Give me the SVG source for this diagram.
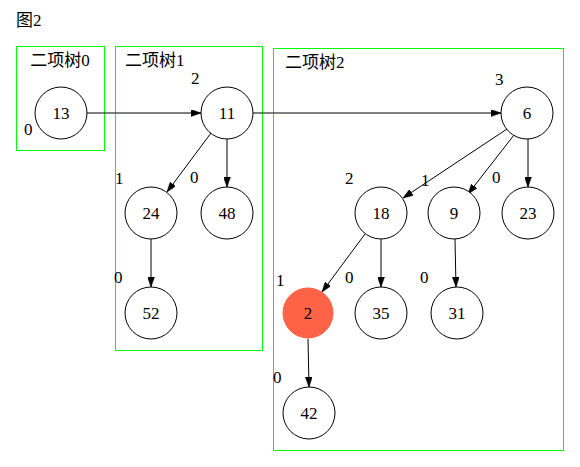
<svg xmlns="http://www.w3.org/2000/svg" width="580" height="467" viewBox="0 0 580 467">
<style>
.cl{fill:none;stroke:#00ff00;stroke-width:1}
.n{fill:#fff;stroke:#000;stroke-width:1}
.t{font-family:"Liberation Serif","Noto Sans CJK SC",serif;font-size:17px;fill:#000}
.c{text-anchor:middle}
.e{stroke:#000;stroke-width:1;fill:none;marker-end:url(#ah)}
</style>
<defs>
<marker id="ah" markerWidth="10" markerHeight="7" refX="10" refY="3.5" orient="auto" markerUnits="userSpaceOnUse">
<path d="M0,0 L10,3.5 L0,7 Z" fill="#000" stroke="#000" stroke-width="0.5"/>
</marker>
</defs>
<rect width="580" height="467" fill="#fff"/>
<text class="t" x="16" y="26">图2</text>
<g id="cluster0"><rect class="cl" x="16.5" y="46.5" width="88" height="104"/><text class="t c" x="60" y="66">二项树0</text></g>
<g id="cluster1"><rect class="cl" x="115.5" y="46.5" width="147" height="304"/><text class="t" x="125" y="66">二项树1</text></g>
<g id="cluster2"><rect class="cl" x="273.5" y="48.5" width="290" height="402"/><text class="t" x="285" y="68">二项树2</text></g>
<g id="edges">
<line class="e" x1="86" y1="113" x2="201" y2="113"/>
<line class="e" x1="252" y1="113" x2="501" y2="113"/>
<line class="e" x1="211" y1="133" x2="167" y2="192"/>
<line class="e" x1="227" y1="139" x2="227" y2="187"/>
<line class="e" x1="151" y1="239" x2="151" y2="287"/>
<line class="e" x1="507" y1="129" x2="403" y2="198"/>
<line class="e" x1="514" y1="135" x2="468" y2="194"/>
<line class="e" x1="528" y1="139" x2="528" y2="187"/>
<line class="e" x1="365" y1="234" x2="322" y2="292"/>
<line class="e" x1="381" y1="239" x2="381" y2="287"/>
<line class="e" x1="455" y1="239" x2="456" y2="287"/>
<line class="e" x1="308" y1="339" x2="309" y2="387"/>
</g>
<g id="n13"><circle class="n" cx="61" cy="113" r="26"/><text class="t c" x="61" y="119">13</text><text class="t" x="24" y="135">0</text></g>
<g id="n11"><circle class="n" cx="227" cy="113" r="26"/><text class="t c" x="227" y="119">11</text><text class="t" x="191" y="84">2</text></g>
<g id="n6"><circle class="n" cx="527" cy="113" r="26"/><text class="t c" x="527" y="119">6</text><text class="t" x="495" y="85">3</text></g>
<g id="n24"><circle class="n" cx="151" cy="213" r="26"/><text class="t c" x="151" y="219">24</text><text class="t" x="115" y="184">1</text></g>
<g id="n48"><circle class="n" cx="227" cy="213" r="26"/><text class="t c" x="227" y="219">48</text><text class="t" x="190" y="183">0</text></g>
<g id="n52"><circle class="n" cx="151" cy="313" r="26"/><text class="t c" x="151" y="319">52</text><text class="t" x="114" y="283">0</text></g>
<g id="n18"><circle class="n" cx="381" cy="213" r="26"/><text class="t c" x="381" y="219">18</text><text class="t" x="345" y="184">2</text></g>
<g id="n9"><circle class="n" cx="454" cy="213" r="26"/><text class="t c" x="454" y="219">9</text><text class="t" x="421" y="186">1</text></g>
<g id="n23"><circle class="n" cx="528" cy="213" r="26"/><text class="t c" x="528" y="219">23</text><text class="t" x="492" y="183">0</text></g>
<g id="n2"><circle cx="308" cy="313" r="25" fill="#ff6347" stroke="#ff6347"/><text class="t c" x="308" y="319">2</text><text class="t" x="276" y="286">1</text></g>
<g id="n35"><circle class="n" cx="381" cy="313" r="26"/><text class="t c" x="381" y="319">35</text><text class="t" x="345" y="283">0</text></g>
<g id="n31"><circle class="n" cx="457" cy="313" r="26"/><text class="t c" x="457" y="319">31</text><text class="t" x="420" y="283">0</text></g>
<g id="n42"><circle class="n" cx="309" cy="413" r="26"/><text class="t c" x="309" y="419">42</text><text class="t" x="273" y="383">0</text></g>
</svg>
